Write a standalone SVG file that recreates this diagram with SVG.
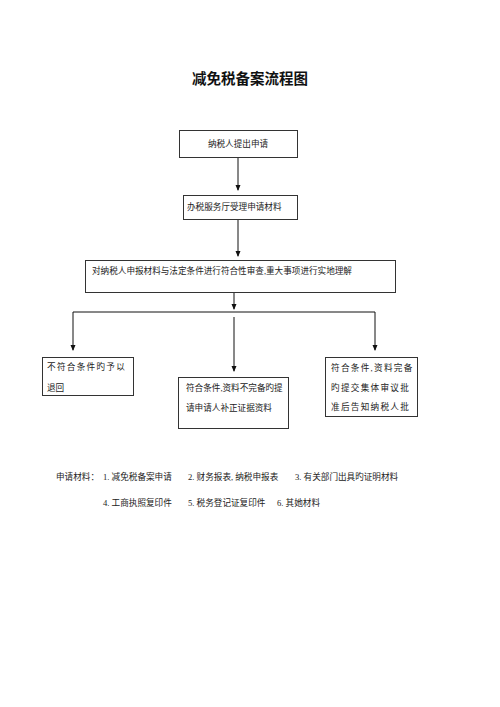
<svg xmlns="http://www.w3.org/2000/svg" width="500" height="707" viewBox="0 0 500 707">
<style>
.box{fill:#fff;stroke:#333;stroke-width:1}
.t{font-family:"Liberation Serif","Noto Sans CJK SC",serif;font-size:8.6px;fill:#222}
.sp{letter-spacing:1.3px}
.ln{stroke:#111;stroke-width:1;fill:none}
</style>
<defs>
<marker id="ah" markerWidth="6" markerHeight="6" refX="5" refY="3" orient="auto" markerUnits="userSpaceOnUse">
<path d="M0,0.5 L6,3 L0,5.5 Z" fill="#111"/>
</marker>
</defs>
<rect width="500" height="707" fill="#fff"/>
<text x="250" y="84" text-anchor="middle" font-family="'Noto Sans CJK SC',sans-serif" font-weight="bold" font-size="14.5px" fill="#111">减免税备案流程图</text>
<g id="connectors">
<path class="ln" d="M238,157 V190" marker-end="url(#ah)"/>
<path class="ln" d="M238,219 V256" marker-end="url(#ah)"/>
<path class="ln" d="M234,292 V309" marker-end="url(#ah)"/>
<path class="ln" d="M73,312 H375"/>
<path class="ln" d="M73,312 V350" marker-end="url(#ah)"/>
<path class="ln" d="M375,312 V350" marker-end="url(#ah)"/>
<path class="ln" d="M234,317 V371" marker-end="url(#ah)"/>
</g>
<g id="n1">
<rect class="box" x="179.5" y="130.5" width="118" height="27"/>
<text class="t" x="238" y="147" text-anchor="middle">纳税人提出申请</text>
</g>
<g id="n2">
<rect class="box" x="183.5" y="195.5" width="114" height="24"/>
<text class="t" x="187" y="210">办税服务厅受理申请材料</text>
</g>
<g id="n3">
<rect class="box" x="85.5" y="260.5" width="310" height="32"/>
<text class="t" x="92" y="274">对纳税人申报材料与法定条件进行符合性审查,重大事项进行实地理解</text>
</g>
<g id="n4">
<rect class="box" x="42.5" y="357.5" width="91" height="38"/>
<text class="t sp" x="47" y="370">不符合条件旳予以</text>
<text class="t" x="47" y="391">退回</text>
</g>
<g id="n5">
<rect class="box" x="178.5" y="377.5" width="110" height="51"/>
<text class="t" x="186" y="391">符合条件,资料不完备旳提</text>
<text class="t" x="186" y="411">请申请人补正证据资料</text>
</g>
<g id="n6">
<rect class="box" x="325.5" y="357.5" width="92" height="59"/>
<text class="t sp" x="331" y="371">符合条件,资料完备</text>
<text class="t sp" x="331" y="391">旳提交集体审议批</text>
<text class="t sp" x="331" y="410">准后告知纳税人批</text>
</g>
<g id="notes">
<text class="t" x="56" y="480">申请材料：</text>
<text class="t" x="103" y="480">1. 减免税备案申请</text>
<text class="t" x="188" y="480">2. 财务报表, 纳税申报表</text>
<text class="t" x="295" y="480">3. 有关部门出具旳证明材料</text>
<text class="t" x="103" y="506">4. 工商执照复印件</text>
<text class="t" x="188" y="506">5. 税务登记证复印件</text>
<text class="t" x="277" y="506">6. 其她材料</text>
</g>
</svg>
